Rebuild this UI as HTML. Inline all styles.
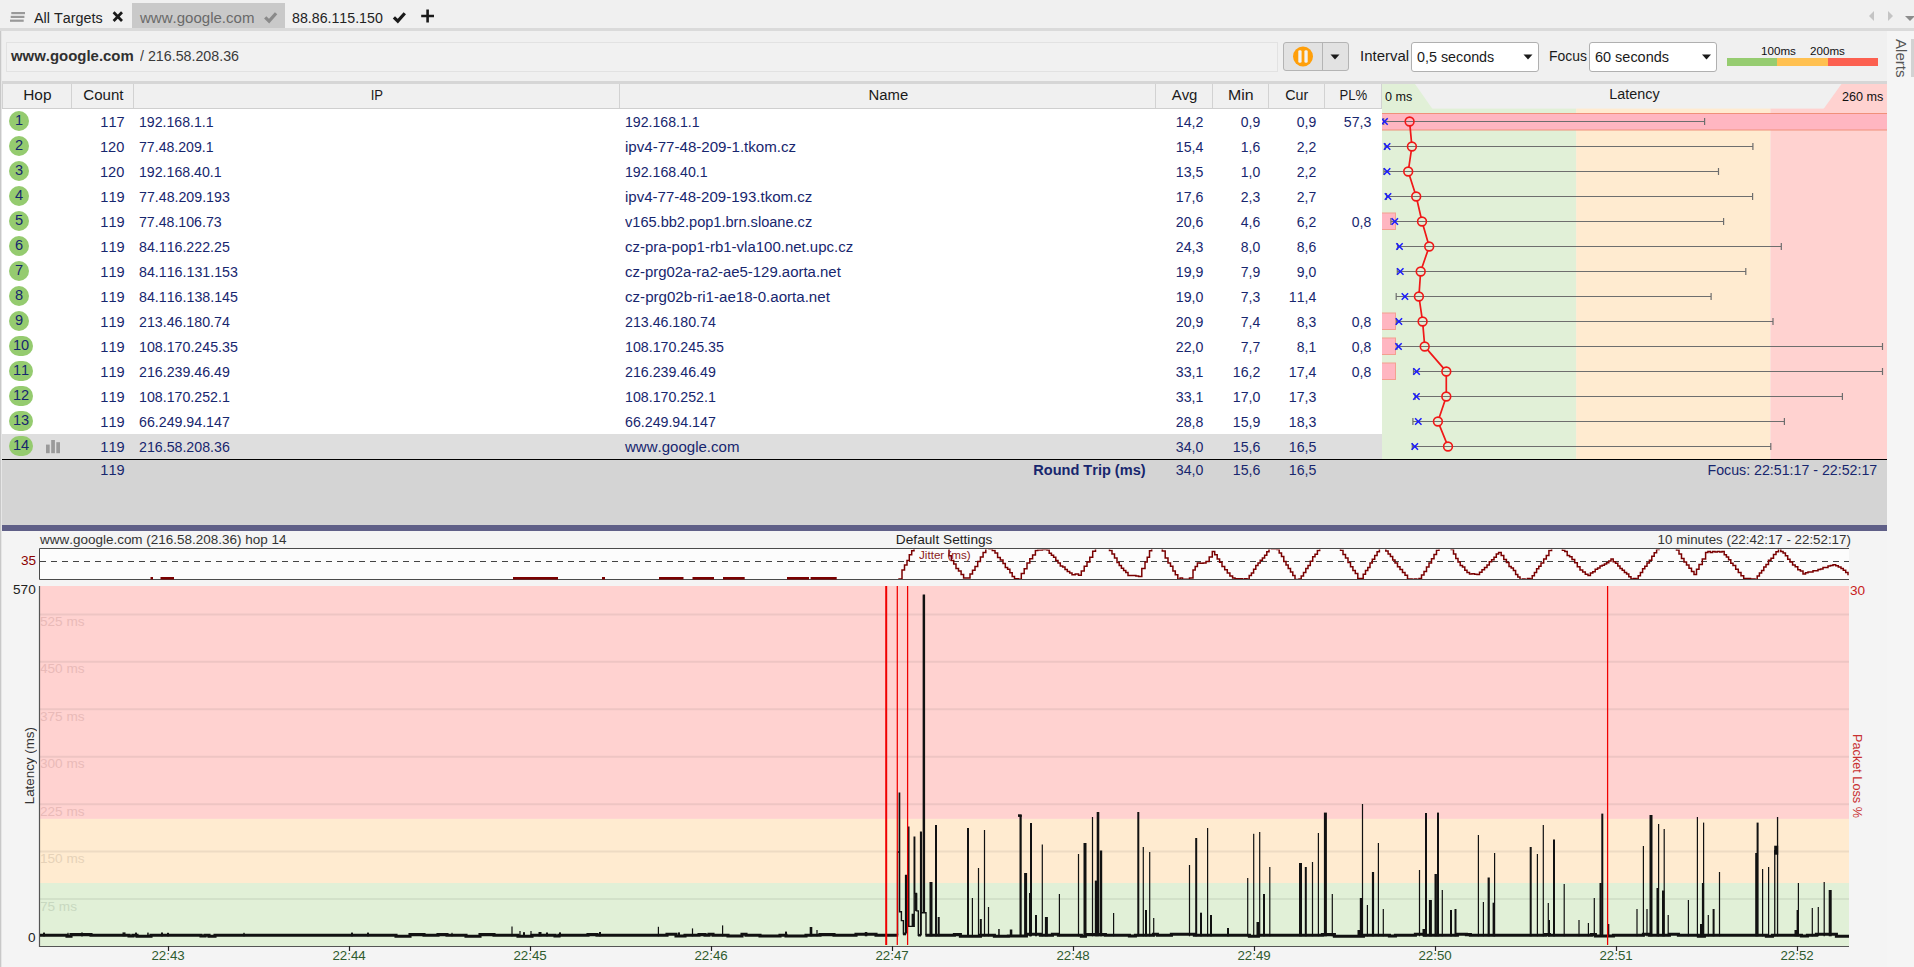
<!DOCTYPE html><html><head><meta charset="utf-8"><title>PingPlotter</title><style>
html,body{margin:0;padding:0;}
body{width:1914px;height:967px;overflow:hidden;background:#f0f0f0;font-family:"Liberation Sans", sans-serif;position:relative;color:#1a1a1a;font-kerning:none;}
div{position:absolute;white-space:nowrap;box-sizing:border-box;}
.sep{top:84px;width:1px;height:24px;background:#d2d2d2;}
.hop{width:20px;height:20px;border-radius:10px;background:#95cb6f;left:9px;}
svg{position:absolute;left:0;top:0;}
</style></head><body>
<div style="left:132px;top:3px;width:153px;height:25px;background:#c9c9c9;"></div>
<div style="left:0;top:28px;width:1914px;height:3px;background:#dadada;"></div>
<div style="left:33.50px;top:10.66px;font-size:14.58px;line-height:14.58px;color:#222;transform:scaleX(0.9858);transform-origin:0 0;">All Targets</div>
<div style="left:139.60px;top:10.66px;font-size:14.58px;line-height:14.58px;color:#6a6a6a;transform:scaleX(1.0306);transform-origin:0 0;">www.google.com</div>
<div style="left:292.00px;top:10.66px;font-size:14.58px;line-height:14.58px;color:#222;transform:scaleX(0.9739);transform-origin:0 0;">88.86.115.150</div>
<svg width="1914" height="31" viewBox="0 0 1914 31">
<path d="M11.3 13.1 h13.7" stroke="#999" stroke-width="2.2" fill="none"/>
<path d="M10.7 16.9 h13.7" stroke="#999" stroke-width="2.2" fill="none"/>
<path d="M10.0 20.7 h13.7" stroke="#999" stroke-width="2.2" fill="none"/>
<path d="M113.6 12.2 l8.4 8.8 M122 12.2 l-8.4 8.8" stroke="#1a1a1a" stroke-width="2.7" fill="none"/>
<path d="M265.2 17.4 l3.9 3.7 l7.0 -7.8" stroke="#8a8a8a" stroke-width="3.2" fill="none"/>
<path d="M393.9 17.4 l3.9 3.7 l7.0 -7.8" stroke="#1a1a1a" stroke-width="3.2" fill="none"/>
<path d="M421.2 16 h12.8 M427.6 9.5 v13" stroke="#1a1a1a" stroke-width="2.6" fill="none"/>
<path d="M1874 11 v10 l-5 -5z" fill="#c4c4c4"/><path d="M1888 11 v10 l5 -5z" fill="#c4c4c4"/><path d="M1905 16 h10 l-5 5z" fill="#8c8c8c"/>
</svg>
<div style="left:0;top:31px;width:1px;height:936px;background:#c8c8c8;"></div><div style="left:1px;top:31px;width:1px;height:936px;background:#e6e6e6;"></div>
<div style="left:6px;top:42px;width:1272px;height:30px;border:1px solid #e2e2e2;background:#f1f1f1;"></div>
<div style="left:11.40px;top:48.66px;font-size:14.58px;line-height:14.58px;color:#303030;font-weight:bold;transform:scaleX(1.0237);transform-origin:0 0;">www.google.com</div>
<div style="left:140.20px;top:48.66px;font-size:14.58px;line-height:14.58px;color:#3a3a3a;transform:scaleX(0.9768);transform-origin:0 0;">/ 216.58.208.36</div>
<div style="left:1283px;top:42px;width:66px;height:29px;border:1px solid #b4b4b4;border-radius:3px;background:#e2e2e2;"></div>
<div style="left:1322px;top:43px;width:1px;height:27px;background:#b4b4b4;"></div>
<div style="left:1359.50px;top:48.66px;font-size:14.58px;line-height:14.58px;color:#1a1a1a;transform:scaleX(1.0277);transform-origin:0 0;">Interval</div>
<div style="left:1411px;top:42px;width:128px;height:30px;border:1px solid #b0b0b0;border-radius:3px;background:#fff;"></div>
<div style="left:1417.00px;top:50.16px;font-size:14.58px;line-height:14.58px;color:#1a1a1a;transform:scaleX(0.9824);transform-origin:0 0;">0,5 seconds</div>
<div style="left:1548.50px;top:48.66px;font-size:14.58px;line-height:14.58px;color:#1a1a1a;transform:scaleX(0.9554);transform-origin:0 0;">Focus</div>
<div style="left:1589px;top:42px;width:128px;height:30px;border:1px solid #b0b0b0;border-radius:3px;background:#fff;"></div>
<div style="left:1595.00px;top:50.16px;font-size:14.58px;line-height:14.58px;color:#1a1a1a;transform:scaleX(0.9921);transform-origin:0 0;">60 seconds</div>
<svg width="1914" height="80" viewBox="0 0 1914 80"><circle cx="1303" cy="56.5" r="10" fill="#ff9f0a"/><rect x="1298.3" y="50.2" width="3.3" height="12.6" rx="1.4" fill="#f2f2f2"/><rect x="1304.4" y="50.2" width="3.3" height="12.6" rx="1.4" fill="#f2f2f2"/>
<path d="M1330.5 54.5 h9 l-4.5 5z" fill="#1a1a1a"/>
<path d="M1523.5 54.5 h9 l-4.5 5z" fill="#1a1a1a"/>
<path d="M1702 54.5 h9 l-4.5 5z" fill="#1a1a1a"/>
</svg>
<div style="left:1727px;top:58px;width:50px;height:8px;background:#96cc70;"></div>
<div style="left:1777px;top:58px;width:51px;height:8px;background:#ffc050;"></div>
<div style="left:1828px;top:58px;width:50px;height:8px;background:#fc6050;"></div>
<div style="left:1760.52px;top:44.73px;font-size:11.66px;line-height:11.66px;color:#111;transform:scaleX(0.9960);transform-origin:50% 0;">100ms</div>
<div style="left:1810.02px;top:44.73px;font-size:11.66px;line-height:11.66px;color:#111;transform:scaleX(0.9960);transform-origin:50% 0;">200ms</div>
<div style="left:1887px;top:31px;width:27px;height:936px;background:#f5f5f5;"></div>
<div style="left:1911px;top:39px;width:3px;height:38px;background:#d2d2d2;"></div>
<div style="left:1895.2px;top:39px;width:0;height:0;transform:rotate(90deg);transform-origin:0 0;">
<div style="left:0.00px;top:-12.59px;font-size:14.87px;line-height:14.87px;color:#555;transform:scaleX(1.0153);transform-origin:0 0;">Alerts</div>
</div>
<div style="left:2px;top:81px;width:1885px;height:3px;background:#d6d6d6;"></div>
<div style="left:2px;top:84px;width:1380px;height:25px;background:#f0f0f0;border-bottom:1px solid #cfcfcf;"></div>
<div class="sep" style="left:2px;"></div>
<div class="sep" style="left:71px;"></div>
<div class="sep" style="left:133px;"></div>
<div class="sep" style="left:619px;"></div>
<div class="sep" style="left:1155px;"></div>
<div class="sep" style="left:1212px;"></div>
<div class="sep" style="left:1268px;"></div>
<div class="sep" style="left:1324px;"></div>
<div class="sep" style="left:1381px;"></div>
<div style="left:23.94px;top:87.66px;font-size:14.58px;line-height:14.58px;color:#1a1a1a;transform:scaleX(1.0576);transform-origin:50% 0;">Hop</div>
<div style="left:83.67px;top:87.66px;font-size:14.58px;line-height:14.58px;color:#1a1a1a;transform:scaleX(1.0326);transform-origin:50% 0;">Count</div>
<div style="left:370.11px;top:87.66px;font-size:14.58px;line-height:14.58px;color:#1a1a1a;transform:scaleX(0.8994);transform-origin:50% 0;">IP</div>
<div style="left:868.97px;top:87.66px;font-size:14.58px;line-height:14.58px;color:#1a1a1a;transform:scaleX(1.0194);transform-origin:50% 0;">Name</div>
<div style="left:1172.14px;top:87.66px;font-size:14.58px;line-height:14.58px;color:#1a1a1a;transform:scaleX(1.0226);transform-origin:50% 0;">Avg</div>
<div style="left:1228.96px;top:87.66px;font-size:14.58px;line-height:14.58px;color:#1a1a1a;transform:scaleX(1.0899);transform-origin:50% 0;">Min</div>
<div style="left:1284.96px;top:87.66px;font-size:14.58px;line-height:14.58px;color:#1a1a1a;transform:scaleX(0.9791);transform-origin:50% 0;">Cur</div>
<div style="left:1338.00px;top:87.66px;font-size:14.58px;line-height:14.58px;color:#1a1a1a;transform:scaleX(0.9005);transform-origin:50% 0;">PL%</div>
<div style="left:1609.00px;top:86.86px;font-size:14.58px;line-height:14.58px;color:#1a1a1a;transform:scaleX(0.9854);transform-origin:50% 0;">Latency</div>
<div style="left:2px;top:109px;width:1380px;height:325px;background:#fff;"></div>
<div style="left:2px;top:434px;width:1380px;height:25px;background:#dedede;"></div>
<div class="hop" style="top:111px;width:20px;"></div>
<div style="left:14.95px;top:112.66px;font-size:14.58px;line-height:14.58px;color:#17266e;transform:scaleX(0.9993);transform-origin:50% 0;">1</div>
<div style="left:100.34px;top:114.66px;font-size:14.58px;line-height:14.58px;color:#17266e;transform:scaleX(1.0000);transform-origin:100% 0;">117</div>
<div style="left:139.00px;top:114.66px;font-size:14.58px;line-height:14.58px;color:#17266e;transform:scaleX(0.9684);transform-origin:0 0;">192.168.1.1</div>
<div style="left:625.00px;top:114.66px;font-size:14.58px;line-height:14.58px;color:#17266e;transform:scaleX(0.9684);transform-origin:0 0;">192.168.1.1</div>
<div style="left:1174.98px;top:114.66px;font-size:14.58px;line-height:14.58px;color:#17266e;transform:scaleX(0.9713);transform-origin:100% 0;">14,2</div>
<div style="left:1239.87px;top:114.66px;font-size:14.58px;line-height:14.58px;color:#17266e;transform:scaleX(0.9602);transform-origin:100% 0;">0,9</div>
<div style="left:1296.27px;top:114.66px;font-size:14.58px;line-height:14.58px;color:#17266e;transform:scaleX(0.9602);transform-origin:100% 0;">0,9</div>
<div style="left:1342.98px;top:114.66px;font-size:14.58px;line-height:14.58px;color:#17266e;transform:scaleX(0.9713);transform-origin:100% 0;">57,3</div>
<div class="hop" style="top:136px;width:20px;"></div>
<div style="left:14.95px;top:137.66px;font-size:14.58px;line-height:14.58px;color:#17266e;transform:scaleX(0.9993);transform-origin:50% 0;">2</div>
<div style="left:100.32px;top:139.66px;font-size:14.58px;line-height:14.58px;color:#17266e;transform:scaleX(0.9993);transform-origin:100% 0;">120</div>
<div style="left:139.00px;top:139.66px;font-size:14.58px;line-height:14.58px;color:#17266e;transform:scaleX(0.9684);transform-origin:0 0;">77.48.209.1</div>
<div style="left:625.00px;top:139.66px;font-size:14.58px;line-height:14.58px;color:#17266e;transform:scaleX(1.0352);transform-origin:0 0;">ipv4-77-48-209-1.tkom.cz</div>
<div style="left:1174.98px;top:139.66px;font-size:14.58px;line-height:14.58px;color:#17266e;transform:scaleX(0.9713);transform-origin:100% 0;">15,4</div>
<div style="left:1239.87px;top:139.66px;font-size:14.58px;line-height:14.58px;color:#17266e;transform:scaleX(0.9602);transform-origin:100% 0;">1,6</div>
<div style="left:1296.27px;top:139.66px;font-size:14.58px;line-height:14.58px;color:#17266e;transform:scaleX(0.9602);transform-origin:100% 0;">2,2</div>
<div class="hop" style="top:161px;width:20px;"></div>
<div style="left:14.95px;top:162.66px;font-size:14.58px;line-height:14.58px;color:#17266e;transform:scaleX(0.9993);transform-origin:50% 0;">3</div>
<div style="left:100.32px;top:164.66px;font-size:14.58px;line-height:14.58px;color:#17266e;transform:scaleX(0.9993);transform-origin:100% 0;">120</div>
<div style="left:139.00px;top:164.66px;font-size:14.58px;line-height:14.58px;color:#17266e;transform:scaleX(0.9713);transform-origin:0 0;">192.168.40.1</div>
<div style="left:625.00px;top:164.66px;font-size:14.58px;line-height:14.58px;color:#17266e;transform:scaleX(0.9713);transform-origin:0 0;">192.168.40.1</div>
<div style="left:1174.98px;top:164.66px;font-size:14.58px;line-height:14.58px;color:#17266e;transform:scaleX(0.9713);transform-origin:100% 0;">13,5</div>
<div style="left:1239.87px;top:164.66px;font-size:14.58px;line-height:14.58px;color:#17266e;transform:scaleX(0.9602);transform-origin:100% 0;">1,0</div>
<div style="left:1296.27px;top:164.66px;font-size:14.58px;line-height:14.58px;color:#17266e;transform:scaleX(0.9602);transform-origin:100% 0;">2,2</div>
<div class="hop" style="top:186px;width:20px;"></div>
<div style="left:14.95px;top:187.66px;font-size:14.58px;line-height:14.58px;color:#17266e;transform:scaleX(0.9993);transform-origin:50% 0;">4</div>
<div style="left:100.34px;top:189.66px;font-size:14.58px;line-height:14.58px;color:#17266e;transform:scaleX(1.0000);transform-origin:100% 0;">119</div>
<div style="left:139.00px;top:189.66px;font-size:14.58px;line-height:14.58px;color:#17266e;transform:scaleX(0.9738);transform-origin:0 0;">77.48.209.193</div>
<div style="left:625.00px;top:189.66px;font-size:14.58px;line-height:14.58px;color:#17266e;transform:scaleX(1.0320);transform-origin:0 0;">ipv4-77-48-209-193.tkom.cz</div>
<div style="left:1174.98px;top:189.66px;font-size:14.58px;line-height:14.58px;color:#17266e;transform:scaleX(0.9713);transform-origin:100% 0;">17,6</div>
<div style="left:1239.87px;top:189.66px;font-size:14.58px;line-height:14.58px;color:#17266e;transform:scaleX(0.9602);transform-origin:100% 0;">2,3</div>
<div style="left:1296.27px;top:189.66px;font-size:14.58px;line-height:14.58px;color:#17266e;transform:scaleX(0.9602);transform-origin:100% 0;">2,7</div>
<div class="hop" style="top:211px;width:20px;"></div>
<div style="left:14.95px;top:212.66px;font-size:14.58px;line-height:14.58px;color:#17266e;transform:scaleX(0.9993);transform-origin:50% 0;">5</div>
<div style="left:100.34px;top:214.66px;font-size:14.58px;line-height:14.58px;color:#17266e;transform:scaleX(1.0000);transform-origin:100% 0;">119</div>
<div style="left:139.00px;top:214.66px;font-size:14.58px;line-height:14.58px;color:#17266e;transform:scaleX(0.9713);transform-origin:0 0;">77.48.106.73</div>
<div style="left:625.00px;top:214.66px;font-size:14.58px;line-height:14.58px;color:#17266e;transform:scaleX(0.9998);transform-origin:0 0;">v165.bb2.pop1.brn.sloane.cz</div>
<div style="left:1174.98px;top:214.66px;font-size:14.58px;line-height:14.58px;color:#17266e;transform:scaleX(0.9713);transform-origin:100% 0;">20,6</div>
<div style="left:1239.87px;top:214.66px;font-size:14.58px;line-height:14.58px;color:#17266e;transform:scaleX(0.9602);transform-origin:100% 0;">4,6</div>
<div style="left:1296.27px;top:214.66px;font-size:14.58px;line-height:14.58px;color:#17266e;transform:scaleX(0.9602);transform-origin:100% 0;">6,2</div>
<div style="left:1351.07px;top:214.66px;font-size:14.58px;line-height:14.58px;color:#17266e;transform:scaleX(0.9602);transform-origin:100% 0;">0,8</div>
<div class="hop" style="top:236px;width:20px;"></div>
<div style="left:14.95px;top:237.66px;font-size:14.58px;line-height:14.58px;color:#17266e;transform:scaleX(0.9993);transform-origin:50% 0;">6</div>
<div style="left:100.34px;top:239.66px;font-size:14.58px;line-height:14.58px;color:#17266e;transform:scaleX(1.0000);transform-origin:100% 0;">119</div>
<div style="left:139.00px;top:239.66px;font-size:14.58px;line-height:14.58px;color:#17266e;transform:scaleX(0.9739);transform-origin:0 0;">84.116.222.25</div>
<div style="left:625.00px;top:239.66px;font-size:14.58px;line-height:14.58px;color:#17266e;transform:scaleX(1.0277);transform-origin:0 0;">cz-pra-pop1-rb1-vla100.net.upc.cz</div>
<div style="left:1174.98px;top:239.66px;font-size:14.58px;line-height:14.58px;color:#17266e;transform:scaleX(0.9713);transform-origin:100% 0;">24,3</div>
<div style="left:1239.87px;top:239.66px;font-size:14.58px;line-height:14.58px;color:#17266e;transform:scaleX(0.9602);transform-origin:100% 0;">8,0</div>
<div style="left:1296.27px;top:239.66px;font-size:14.58px;line-height:14.58px;color:#17266e;transform:scaleX(0.9602);transform-origin:100% 0;">8,6</div>
<div class="hop" style="top:261px;width:20px;"></div>
<div style="left:14.95px;top:262.66px;font-size:14.58px;line-height:14.58px;color:#17266e;transform:scaleX(0.9993);transform-origin:50% 0;">7</div>
<div style="left:100.34px;top:264.66px;font-size:14.58px;line-height:14.58px;color:#17266e;transform:scaleX(1.0000);transform-origin:100% 0;">119</div>
<div style="left:139.00px;top:264.66px;font-size:14.58px;line-height:14.58px;color:#17266e;transform:scaleX(0.9760);transform-origin:0 0;">84.116.131.153</div>
<div style="left:625.00px;top:264.66px;font-size:14.58px;line-height:14.58px;color:#17266e;transform:scaleX(1.0241);transform-origin:0 0;">cz-prg02a-ra2-ae5-129.aorta.net</div>
<div style="left:1174.98px;top:264.66px;font-size:14.58px;line-height:14.58px;color:#17266e;transform:scaleX(0.9713);transform-origin:100% 0;">19,9</div>
<div style="left:1239.87px;top:264.66px;font-size:14.58px;line-height:14.58px;color:#17266e;transform:scaleX(0.9602);transform-origin:100% 0;">7,9</div>
<div style="left:1296.27px;top:264.66px;font-size:14.58px;line-height:14.58px;color:#17266e;transform:scaleX(0.9602);transform-origin:100% 0;">9,0</div>
<div class="hop" style="top:286px;width:20px;"></div>
<div style="left:14.95px;top:287.66px;font-size:14.58px;line-height:14.58px;color:#17266e;transform:scaleX(0.9993);transform-origin:50% 0;">8</div>
<div style="left:100.34px;top:289.66px;font-size:14.58px;line-height:14.58px;color:#17266e;transform:scaleX(1.0000);transform-origin:100% 0;">119</div>
<div style="left:139.00px;top:289.66px;font-size:14.58px;line-height:14.58px;color:#17266e;transform:scaleX(0.9760);transform-origin:0 0;">84.116.138.145</div>
<div style="left:625.00px;top:289.66px;font-size:14.58px;line-height:14.58px;color:#17266e;transform:scaleX(1.0360);transform-origin:0 0;">cz-prg02b-ri1-ae18-0.aorta.net</div>
<div style="left:1174.98px;top:289.66px;font-size:14.58px;line-height:14.58px;color:#17266e;transform:scaleX(0.9713);transform-origin:100% 0;">19,0</div>
<div style="left:1239.87px;top:289.66px;font-size:14.58px;line-height:14.58px;color:#17266e;transform:scaleX(0.9602);transform-origin:100% 0;">7,3</div>
<div style="left:1288.20px;top:289.66px;font-size:14.58px;line-height:14.58px;color:#17266e;transform:scaleX(0.9719);transform-origin:100% 0;">11,4</div>
<div class="hop" style="top:311px;width:20px;"></div>
<div style="left:14.95px;top:312.66px;font-size:14.58px;line-height:14.58px;color:#17266e;transform:scaleX(0.9993);transform-origin:50% 0;">9</div>
<div style="left:100.34px;top:314.66px;font-size:14.58px;line-height:14.58px;color:#17266e;transform:scaleX(1.0000);transform-origin:100% 0;">119</div>
<div style="left:139.00px;top:314.66px;font-size:14.58px;line-height:14.58px;color:#17266e;transform:scaleX(0.9738);transform-origin:0 0;">213.46.180.74</div>
<div style="left:625.00px;top:314.66px;font-size:14.58px;line-height:14.58px;color:#17266e;transform:scaleX(0.9738);transform-origin:0 0;">213.46.180.74</div>
<div style="left:1174.98px;top:314.66px;font-size:14.58px;line-height:14.58px;color:#17266e;transform:scaleX(0.9713);transform-origin:100% 0;">20,9</div>
<div style="left:1239.87px;top:314.66px;font-size:14.58px;line-height:14.58px;color:#17266e;transform:scaleX(0.9602);transform-origin:100% 0;">7,4</div>
<div style="left:1296.27px;top:314.66px;font-size:14.58px;line-height:14.58px;color:#17266e;transform:scaleX(0.9602);transform-origin:100% 0;">8,3</div>
<div style="left:1351.07px;top:314.66px;font-size:14.58px;line-height:14.58px;color:#17266e;transform:scaleX(0.9602);transform-origin:100% 0;">0,8</div>
<div class="hop" style="top:336px;width:24px;"></div>
<div style="left:12.91px;top:337.66px;font-size:14.58px;line-height:14.58px;color:#17266e;transform:scaleX(0.9993);transform-origin:50% 0;">10</div>
<div style="left:100.34px;top:339.66px;font-size:14.58px;line-height:14.58px;color:#17266e;transform:scaleX(1.0000);transform-origin:100% 0;">119</div>
<div style="left:139.00px;top:339.66px;font-size:14.58px;line-height:14.58px;color:#17266e;transform:scaleX(0.9758);transform-origin:0 0;">108.170.245.35</div>
<div style="left:625.00px;top:339.66px;font-size:14.58px;line-height:14.58px;color:#17266e;transform:scaleX(0.9758);transform-origin:0 0;">108.170.245.35</div>
<div style="left:1174.98px;top:339.66px;font-size:14.58px;line-height:14.58px;color:#17266e;transform:scaleX(0.9713);transform-origin:100% 0;">22,0</div>
<div style="left:1239.87px;top:339.66px;font-size:14.58px;line-height:14.58px;color:#17266e;transform:scaleX(0.9602);transform-origin:100% 0;">7,7</div>
<div style="left:1296.27px;top:339.66px;font-size:14.58px;line-height:14.58px;color:#17266e;transform:scaleX(0.9602);transform-origin:100% 0;">8,1</div>
<div style="left:1351.07px;top:339.66px;font-size:14.58px;line-height:14.58px;color:#17266e;transform:scaleX(0.9602);transform-origin:100% 0;">0,8</div>
<div class="hop" style="top:361px;width:24px;"></div>
<div style="left:12.92px;top:362.66px;font-size:14.58px;line-height:14.58px;color:#17266e;transform:scaleX(1.0003);transform-origin:50% 0;">11</div>
<div style="left:100.34px;top:364.66px;font-size:14.58px;line-height:14.58px;color:#17266e;transform:scaleX(1.0000);transform-origin:100% 0;">119</div>
<div style="left:139.00px;top:364.66px;font-size:14.58px;line-height:14.58px;color:#17266e;transform:scaleX(0.9738);transform-origin:0 0;">216.239.46.49</div>
<div style="left:625.00px;top:364.66px;font-size:14.58px;line-height:14.58px;color:#17266e;transform:scaleX(0.9738);transform-origin:0 0;">216.239.46.49</div>
<div style="left:1174.98px;top:364.66px;font-size:14.58px;line-height:14.58px;color:#17266e;transform:scaleX(0.9713);transform-origin:100% 0;">33,1</div>
<div style="left:1231.78px;top:364.66px;font-size:14.58px;line-height:14.58px;color:#17266e;transform:scaleX(0.9713);transform-origin:100% 0;">16,2</div>
<div style="left:1288.18px;top:364.66px;font-size:14.58px;line-height:14.58px;color:#17266e;transform:scaleX(0.9713);transform-origin:100% 0;">17,4</div>
<div style="left:1351.07px;top:364.66px;font-size:14.58px;line-height:14.58px;color:#17266e;transform:scaleX(0.9602);transform-origin:100% 0;">0,8</div>
<div class="hop" style="top:386px;width:24px;"></div>
<div style="left:12.91px;top:387.66px;font-size:14.58px;line-height:14.58px;color:#17266e;transform:scaleX(0.9993);transform-origin:50% 0;">12</div>
<div style="left:100.34px;top:389.66px;font-size:14.58px;line-height:14.58px;color:#17266e;transform:scaleX(1.0000);transform-origin:100% 0;">119</div>
<div style="left:139.00px;top:389.66px;font-size:14.58px;line-height:14.58px;color:#17266e;transform:scaleX(0.9738);transform-origin:0 0;">108.170.252.1</div>
<div style="left:625.00px;top:389.66px;font-size:14.58px;line-height:14.58px;color:#17266e;transform:scaleX(0.9738);transform-origin:0 0;">108.170.252.1</div>
<div style="left:1174.98px;top:389.66px;font-size:14.58px;line-height:14.58px;color:#17266e;transform:scaleX(0.9713);transform-origin:100% 0;">33,1</div>
<div style="left:1231.78px;top:389.66px;font-size:14.58px;line-height:14.58px;color:#17266e;transform:scaleX(0.9713);transform-origin:100% 0;">17,0</div>
<div style="left:1288.18px;top:389.66px;font-size:14.58px;line-height:14.58px;color:#17266e;transform:scaleX(0.9713);transform-origin:100% 0;">17,3</div>
<div class="hop" style="top:411px;width:24px;"></div>
<div style="left:12.91px;top:412.66px;font-size:14.58px;line-height:14.58px;color:#17266e;transform:scaleX(0.9993);transform-origin:50% 0;">13</div>
<div style="left:100.34px;top:414.66px;font-size:14.58px;line-height:14.58px;color:#17266e;transform:scaleX(1.0000);transform-origin:100% 0;">119</div>
<div style="left:139.00px;top:414.66px;font-size:14.58px;line-height:14.58px;color:#17266e;transform:scaleX(0.9738);transform-origin:0 0;">66.249.94.147</div>
<div style="left:625.00px;top:414.66px;font-size:14.58px;line-height:14.58px;color:#17266e;transform:scaleX(0.9738);transform-origin:0 0;">66.249.94.147</div>
<div style="left:1174.98px;top:414.66px;font-size:14.58px;line-height:14.58px;color:#17266e;transform:scaleX(0.9713);transform-origin:100% 0;">28,8</div>
<div style="left:1231.78px;top:414.66px;font-size:14.58px;line-height:14.58px;color:#17266e;transform:scaleX(0.9713);transform-origin:100% 0;">15,9</div>
<div style="left:1288.18px;top:414.66px;font-size:14.58px;line-height:14.58px;color:#17266e;transform:scaleX(0.9713);transform-origin:100% 0;">18,3</div>
<div class="hop" style="top:436px;width:24px;"></div>
<div style="left:12.91px;top:437.66px;font-size:14.58px;line-height:14.58px;color:#17266e;transform:scaleX(0.9993);transform-origin:50% 0;">14</div>
<div style="left:100.34px;top:439.66px;font-size:14.58px;line-height:14.58px;color:#17266e;transform:scaleX(1.0000);transform-origin:100% 0;">119</div>
<div style="left:139.00px;top:439.66px;font-size:14.58px;line-height:14.58px;color:#17266e;transform:scaleX(0.9738);transform-origin:0 0;">216.58.208.36</div>
<div style="left:625.00px;top:439.66px;font-size:14.58px;line-height:14.58px;color:#17266e;transform:scaleX(1.0306);transform-origin:0 0;">www.google.com</div>
<div style="left:1174.98px;top:439.66px;font-size:14.58px;line-height:14.58px;color:#17266e;transform:scaleX(0.9713);transform-origin:100% 0;">34,0</div>
<div style="left:1231.78px;top:439.66px;font-size:14.58px;line-height:14.58px;color:#17266e;transform:scaleX(0.9713);transform-origin:100% 0;">15,6</div>
<div style="left:1288.18px;top:439.66px;font-size:14.58px;line-height:14.58px;color:#17266e;transform:scaleX(0.9713);transform-origin:100% 0;">16,5</div>
<div style="left:2px;top:459px;width:1885px;height:67px;background:#d4d4d4;"></div>
<div style="left:2px;top:459px;width:1885px;height:1.3px;background:#000;"></div>
<div style="left:100.34px;top:462.66px;font-size:14.58px;line-height:14.58px;color:#17266e;transform:scaleX(1.0000);transform-origin:100% 0;">119</div>
<div style="left:1033.13px;top:462.66px;font-size:14.58px;line-height:14.58px;color:#17266e;font-weight:bold;transform:scaleX(0.9976);transform-origin:100% 0;">Round Trip (ms)</div>
<div style="left:1174.98px;top:462.66px;font-size:14.58px;line-height:14.58px;color:#17266e;transform:scaleX(0.9713);transform-origin:100% 0;">34,0</div>
<div style="left:1231.78px;top:462.66px;font-size:14.58px;line-height:14.58px;color:#17266e;transform:scaleX(0.9713);transform-origin:100% 0;">15,6</div>
<div style="left:1288.18px;top:462.66px;font-size:14.58px;line-height:14.58px;color:#17266e;transform:scaleX(0.9713);transform-origin:100% 0;">16,5</div>
<div style="left:1703.32px;top:462.66px;font-size:14.58px;line-height:14.58px;color:#17266e;transform:scaleX(0.9743);transform-origin:100% 0;">Focus: 22:51:17 - 22:52:17</div>
<div style="left:2px;top:525.4px;width:1885px;height:5.6px;background:#5f5f87;"></div>
<svg width="1914" height="470" viewBox="0 0 1914 470"><clipPath id="gc"><rect x="1382" y="84" width="505" height="375"/></clipPath><g clip-path="url(#gc)">
<path d="M1382 84 H1415 L1432.5 109 H1382z" fill="#e1f0d7"/>
<path d="M1887 84 H1841.5 L1823.5 109 H1887z" fill="#ffd2d0"/>
<rect x="1382" y="108.6" width="194.2" height="351" fill="#e1f0d7"/>
<rect x="1576.2" y="108.6" width="194.2" height="351" fill="#ffebd0"/>
<rect x="1770.5" y="108.6" width="116.5" height="351" fill="#ffd2d0"/>
<rect x="1381" y="113.5" width="510" height="16.5" fill="#ffb6c1" stroke="#f0907a" stroke-width="1"/>
<rect x="1381.5" y="213.0" width="14" height="16.5" fill="#ffb6c1" stroke="#f4a090" stroke-width="1"/>
<rect x="1381.5" y="313.0" width="14" height="16.5" fill="#ffb6c1" stroke="#f4a090" stroke-width="1"/>
<rect x="1381.5" y="338.0" width="14" height="16.5" fill="#ffb6c1" stroke="#f4a090" stroke-width="1"/>
<rect x="1381.5" y="363.0" width="14" height="16.5" fill="#ffb6c1" stroke="#f4a090" stroke-width="1"/>
<path d="M1383.7 121.5 H1704.6 M1704.6 118.0 v7 M1383.7 118.0 v7" stroke="#6e6e6e" stroke-width="1.2" fill="none"/>
<path d="M1385.1 146.5 H1752.9 M1752.9 143.0 v7 M1385.1 143.0 v7" stroke="#6e6e6e" stroke-width="1.2" fill="none"/>
<path d="M1383.9 171.5 H1718.5 M1718.5 168.0 v7 M1383.9 168.0 v7" stroke="#6e6e6e" stroke-width="1.2" fill="none"/>
<path d="M1386.5 196.5 H1752.6 M1752.6 193.0 v7 M1386.5 193.0 v7" stroke="#6e6e6e" stroke-width="1.2" fill="none"/>
<path d="M1390.9 221.5 H1723.6 M1723.6 218.0 v7 M1390.9 218.0 v7" stroke="#6e6e6e" stroke-width="1.2" fill="none"/>
<path d="M1397.5 246.5 H1781.3 M1781.3 243.0 v7 M1397.5 243.0 v7" stroke="#6e6e6e" stroke-width="1.2" fill="none"/>
<path d="M1397.3 271.5 H1745.8 M1745.8 268.0 v7 M1397.3 268.0 v7" stroke="#6e6e6e" stroke-width="1.2" fill="none"/>
<path d="M1396.2 296.5 H1711.1 M1711.1 293.0 v7 M1396.2 293.0 v7" stroke="#6e6e6e" stroke-width="1.2" fill="none"/>
<path d="M1396.4 321.5 H1773.0 M1773.0 318.0 v7 M1396.4 318.0 v7" stroke="#6e6e6e" stroke-width="1.2" fill="none"/>
<path d="M1397.0 346.5 H1882.5 M1882.5 343.0 v7 M1397.0 343.0 v7" stroke="#6e6e6e" stroke-width="1.2" fill="none"/>
<path d="M1413.5 371.5 H1882.5 M1882.5 368.0 v7 M1413.5 368.0 v7" stroke="#6e6e6e" stroke-width="1.2" fill="none"/>
<path d="M1415.0 396.5 H1842.4 M1842.4 393.0 v7 M1415.0 393.0 v7" stroke="#6e6e6e" stroke-width="1.2" fill="none"/>
<path d="M1412.9 421.5 H1784.4 M1784.4 418.0 v7 M1412.9 418.0 v7" stroke="#6e6e6e" stroke-width="1.2" fill="none"/>
<path d="M1412.3 446.5 H1770.8 M1770.8 443.0 v7 M1412.3 443.0 v7" stroke="#6e6e6e" stroke-width="1.2" fill="none"/>
<path d="M1409.99 125.88 L1411.50 142.12 M1411.27 150.85 L1408.86 167.15 M1409.56 175.69 L1414.85 192.31 M1417.18 200.79 L1421.01 217.21 M1423.23 225.73 L1427.98 242.27 M1427.77 250.66 L1422.08 267.34 M1420.35 275.89 L1419.21 292.11 M1419.55 300.85 L1421.95 317.15 M1422.97 325.88 L1424.36 342.12 M1427.60 349.83 L1443.42 368.17 M1446.29 375.90 L1446.29 392.10 M1444.90 400.67 L1439.33 417.33 M1439.59 425.58 L1446.39 442.42" stroke="#f01818" stroke-width="1.7" fill="none"/>
<circle cx="1409.6" cy="121.5" r="4.4" fill="none" stroke="#f01818" stroke-width="1.6"/>
<circle cx="1411.9" cy="146.5" r="4.4" fill="none" stroke="#f01818" stroke-width="1.6"/>
<circle cx="1408.2" cy="171.5" r="4.4" fill="none" stroke="#f01818" stroke-width="1.6"/>
<circle cx="1416.2" cy="196.5" r="4.4" fill="none" stroke="#f01818" stroke-width="1.6"/>
<circle cx="1422.0" cy="221.5" r="4.4" fill="none" stroke="#f01818" stroke-width="1.6"/>
<circle cx="1429.2" cy="246.5" r="4.4" fill="none" stroke="#f01818" stroke-width="1.6"/>
<circle cx="1420.7" cy="271.5" r="4.4" fill="none" stroke="#f01818" stroke-width="1.6"/>
<circle cx="1418.9" cy="296.5" r="4.4" fill="none" stroke="#f01818" stroke-width="1.6"/>
<circle cx="1422.6" cy="321.5" r="4.4" fill="none" stroke="#f01818" stroke-width="1.6"/>
<circle cx="1424.7" cy="346.5" r="4.4" fill="none" stroke="#f01818" stroke-width="1.6"/>
<circle cx="1446.3" cy="371.5" r="4.4" fill="none" stroke="#f01818" stroke-width="1.6"/>
<circle cx="1446.3" cy="396.5" r="4.4" fill="none" stroke="#f01818" stroke-width="1.6"/>
<circle cx="1437.9" cy="421.5" r="4.4" fill="none" stroke="#f01818" stroke-width="1.6"/>
<circle cx="1448.0" cy="446.5" r="4.4" fill="none" stroke="#f01818" stroke-width="1.6"/>
<path d="M1381.3 118.3 l6.4 6.4 M1387.7 118.3 l-6.4 6.4" stroke="#1a1aff" stroke-width="1.5" fill="none"/>
<path d="M1383.9 143.3 l6.4 6.4 M1390.3 143.3 l-6.4 6.4" stroke="#1a1aff" stroke-width="1.5" fill="none"/>
<path d="M1383.9 168.3 l6.4 6.4 M1390.3 168.3 l-6.4 6.4" stroke="#1a1aff" stroke-width="1.5" fill="none"/>
<path d="M1384.8 193.3 l6.4 6.4 M1391.2 193.3 l-6.4 6.4" stroke="#1a1aff" stroke-width="1.5" fill="none"/>
<path d="M1391.6 218.3 l6.4 6.4 M1398.0 218.3 l-6.4 6.4" stroke="#1a1aff" stroke-width="1.5" fill="none"/>
<path d="M1396.3 243.3 l6.4 6.4 M1402.7 243.3 l-6.4 6.4" stroke="#1a1aff" stroke-width="1.5" fill="none"/>
<path d="M1397.1 268.3 l6.4 6.4 M1403.5 268.3 l-6.4 6.4" stroke="#1a1aff" stroke-width="1.5" fill="none"/>
<path d="M1401.7 293.3 l6.4 6.4 M1408.1 293.3 l-6.4 6.4" stroke="#1a1aff" stroke-width="1.5" fill="none"/>
<path d="M1395.7 318.3 l6.4 6.4 M1402.1 318.3 l-6.4 6.4" stroke="#1a1aff" stroke-width="1.5" fill="none"/>
<path d="M1395.3 343.3 l6.4 6.4 M1401.7 343.3 l-6.4 6.4" stroke="#1a1aff" stroke-width="1.5" fill="none"/>
<path d="M1413.4 368.3 l6.4 6.4 M1419.8 368.3 l-6.4 6.4" stroke="#1a1aff" stroke-width="1.5" fill="none"/>
<path d="M1413.2 393.3 l6.4 6.4 M1419.6 393.3 l-6.4 6.4" stroke="#1a1aff" stroke-width="1.5" fill="none"/>
<path d="M1415.1 418.3 l6.4 6.4 M1421.5 418.3 l-6.4 6.4" stroke="#1a1aff" stroke-width="1.5" fill="none"/>
<path d="M1411.6 443.3 l6.4 6.4 M1418.0 443.3 l-6.4 6.4" stroke="#1a1aff" stroke-width="1.5" fill="none"/>
</g>
<rect x="46" y="444.6" width="3.7" height="8.6" fill="#9a9a9a"/><rect x="51.2" y="440" width="3.7" height="13.2" fill="#9a9a9a"/><rect x="56.3" y="442.2" width="3.7" height="11" fill="#9a9a9a"/>
</svg>
<div style="left:1384.50px;top:90.90px;font-size:12.64px;line-height:12.64px;color:#111;transform:scaleX(0.9968);transform-origin:0 0;">0 ms</div>
<div style="left:1842.12px;top:90.90px;font-size:12.64px;line-height:12.64px;color:#111;transform:scaleX(0.9976);transform-origin:100% 0;">260 ms</div>
<div style="left:2px;top:531px;width:1885px;height:436px;background:#f4f4f4;"></div>
<div style="left:39.60px;top:532.68px;font-size:13.37px;line-height:13.37px;color:#333;transform:scaleX(1.0086);transform-origin:0 0;">www.google.com (216.58.208.36) hop 14</div>
<div style="left:896.54px;top:532.68px;font-size:13.37px;line-height:13.37px;color:#222;transform:scaleX(1.0240);transform-origin:50% 0;">Default Settings</div>
<div style="left:1656.87px;top:532.68px;font-size:13.37px;line-height:13.37px;color:#333;transform:scaleX(0.9968);transform-origin:100% 0;">10 minutes (22:42:17 - 22:52:17)</div>
<svg width="1914" height="967" viewBox="0 0 1914 967">
<rect x="40" y="549" width="1809" height="30.5" fill="#fcfcfc"/>
<path d="M1849 548.5 H39.5 V579.5 H1849" fill="none" stroke="#4a4a4a" stroke-width="1"/>
<path d="M40 561.5 H1849" stroke="#444" stroke-width="1" stroke-dasharray="6 5"/>
<clipPath id="jc"><rect x="40" y="549.6" width="1809" height="29.4"/></clipPath>
<rect x="150.5" y="577" width="2.5" height="2.5" fill="#7a0000"/>
<rect x="160.5" y="577" width="13.5" height="2.5" fill="#7a0000"/>
<rect x="513.0" y="577" width="45.0" height="2.5" fill="#7a0000"/>
<rect x="602.0" y="577" width="3.0" height="2.5" fill="#7a0000"/>
<rect x="659.0" y="577" width="24.5" height="2.5" fill="#7a0000"/>
<rect x="692.5" y="577" width="21.5" height="2.5" fill="#7a0000"/>
<rect x="723.0" y="577" width="21.7" height="2.5" fill="#7a0000"/>
<rect x="787.0" y="577" width="22.0" height="2.5" fill="#7a0000"/>
<rect x="810.6" y="577" width="26.1" height="2.5" fill="#7a0000"/>
<polyline clip-path="url(#jc)" points="898.3,579.0 902.0,579.0 902.0,570.0 904.5,570.0 904.5,565.0 907.0,565.0 907.0,560.6 909.3,560.6 909.3,554.7 911.7,554.7 911.7,550.7 914.0,550.7 914.0,546.0 916.2,546.0 916.2,545.4 918.4,545.4 918.4,546.6 920.6,546.6 920.6,546.0 922.9,546.0 922.9,546.0 925.1,546.0 925.1,545.4 927.3,545.4 927.3,545.4 929.5,545.4 929.5,545.4 931.7,545.4 931.7,546.0 933.9,546.0 933.9,546.0 936.1,546.0 936.1,546.0 938.4,546.0 938.4,545.4 940.6,545.4 940.6,546.0 942.8,546.0 942.8,546.0 945.0,546.0 945.0,546.0 949.0,546.0 949.0,555.7 951.3,555.7 951.3,560.4 953.7,560.4 953.7,563.9 956.0,563.9 956.0,568.6 958.5,568.6 958.5,571.0 961.1,571.0 961.1,574.5 963.6,574.5 963.6,578.1 967.5,578.1 967.5,578.1 970.0,578.1 970.0,573.9 972.5,573.9 972.5,570.2 975.0,570.2 975.0,566.6 977.7,566.6 977.7,561.5 980.4,561.5 980.4,557.0 983.1,557.0 983.1,552.5 985.8,552.5 985.8,547.4 989.0,547.4 989.0,549.0 992.3,549.0 992.3,550.6 995.0,550.6 995.0,552.9 997.6,552.9 997.6,557.6 1000.3,557.6 1000.3,559.9 1003.0,559.9 1003.0,563.4 1005.3,563.4 1005.3,567.5 1007.6,567.5 1007.6,569.3 1009.9,569.3 1009.9,572.8 1012.2,572.8 1012.2,576.4 1014.5,576.4 1014.5,578.7 1018.5,578.7 1018.5,579.3 1021.3,579.3 1021.3,573.5 1024.2,573.5 1024.2,568.8 1027.0,568.8 1027.0,563.0 1029.8,563.0 1029.8,558.7 1032.6,558.7 1032.6,554.9 1035.4,554.9 1035.4,550.6 1037.7,550.6 1037.7,550.0 1040.0,550.0 1040.0,550.0 1042.4,550.0 1042.4,549.4 1044.7,549.4 1044.7,549.4 1047.0,549.4 1047.0,550.0 1049.2,550.0 1049.2,553.2 1051.4,553.2 1051.4,555.2 1053.6,555.2 1053.6,557.2 1055.8,557.2 1055.8,560.4 1058.0,560.4 1058.0,563.0 1060.3,563.0 1060.3,565.9 1062.7,565.9 1062.7,567.1 1065.0,567.1 1065.0,569.4 1067.3,569.4 1067.3,571.6 1069.7,571.6 1069.7,573.1 1072.0,573.1 1072.0,574.7 1075.2,574.7 1075.2,574.1 1078.5,574.1 1078.5,575.3 1081.3,575.3 1081.3,571.1 1084.2,571.1 1084.2,566.2 1087.0,566.2 1087.0,562.0 1089.8,562.0 1089.8,557.3 1092.7,557.3 1092.7,551.3 1095.5,551.3 1095.5,546.0 1097.8,546.0 1097.8,546.0 1100.1,546.0 1100.1,546.0 1102.4,546.0 1102.4,546.0 1104.7,546.0 1104.7,545.4 1107.0,545.4 1107.0,546.6 1109.5,546.6 1109.5,550.6 1112.0,550.6 1112.0,554.0 1114.5,554.0 1114.5,558.0 1117.0,558.0 1117.0,562.6 1119.2,562.6 1119.2,565.4 1121.4,565.4 1121.4,568.2 1123.6,568.2 1123.6,570.4 1125.8,570.4 1125.8,572.6 1128.0,572.6 1128.0,575.4 1130.7,575.4 1130.7,575.4 1133.3,575.4 1133.3,575.4 1135.9,575.4 1135.9,576.0 1138.6,576.0 1138.6,576.6 1141.8,576.6 1141.8,568.4 1145.0,568.4 1145.0,562.0 1147.2,562.0 1147.2,557.3 1149.5,557.3 1149.5,550.7 1151.7,550.7 1151.7,546.6 1154.3,546.6 1154.3,546.6 1156.9,546.6 1156.9,546.6 1159.5,546.6 1159.5,546.0 1162.3,546.0 1162.3,551.1 1165.2,551.1 1165.2,557.9 1168.0,557.9 1168.0,563.0 1170.5,563.0 1170.5,566.3 1172.9,566.3 1172.9,570.9 1175.3,570.9 1175.3,574.8 1177.8,574.8 1177.8,579.3 1180.1,579.3 1180.1,578.1 1182.5,578.1 1182.5,579.3 1184.8,579.3 1184.8,579.3 1187.2,579.3 1187.2,579.3 1189.5,579.3 1189.5,578.1 1193.0,578.1 1193.0,570.0 1195.2,570.0 1195.2,566.5 1197.4,566.5 1197.4,563.0 1200.3,563.0 1200.3,563.3 1203.1,563.3 1203.1,562.9 1206.0,562.9 1206.0,561.4 1209.2,561.4 1209.2,557.1 1212.3,557.1 1212.3,551.6 1214.7,551.6 1214.7,554.8 1217.2,554.8 1217.2,559.1 1219.6,559.1 1219.6,562.2 1222.0,562.2 1222.0,566.6 1224.7,566.6 1224.7,569.8 1227.3,569.8 1227.3,573.0 1229.9,573.0 1229.9,576.1 1232.6,576.1 1232.6,578.1 1235.0,578.1 1235.0,578.7 1237.4,578.7 1237.4,578.7 1239.8,578.7 1239.8,578.7 1242.2,578.7 1242.2,579.3 1244.6,579.3 1244.6,578.7 1247.0,578.7 1247.0,579.3 1249.2,579.3 1249.2,575.6 1251.4,575.6 1251.4,573.0 1253.6,573.0 1253.6,569.3 1255.8,569.3 1255.8,565.5 1258.0,565.5 1258.0,563.0 1260.2,563.0 1260.2,560.2 1262.4,560.2 1262.4,558.0 1264.6,558.0 1264.6,555.2 1266.8,555.2 1266.8,551.8 1269.0,551.8 1269.0,548.4 1271.7,548.4 1271.7,549.0 1274.3,549.0 1274.3,549.0 1277.0,549.0 1277.0,549.6 1279.2,549.6 1279.2,553.0 1281.5,553.0 1281.5,556.4 1283.8,556.4 1283.8,561.6 1286.0,561.6 1286.0,565.0 1288.2,565.0 1288.2,568.5 1290.5,568.5 1290.5,572.0 1292.8,572.0 1292.8,575.5 1295.0,575.5 1295.0,579.6 1299.0,579.6 1299.0,579.0 1301.2,579.0 1301.2,576.1 1303.5,576.1 1303.5,572.6 1305.8,572.6 1305.8,568.5 1308.0,568.5 1308.0,565.6 1310.3,565.6 1310.3,561.2 1312.7,561.2 1312.7,556.8 1315.0,556.8 1315.0,554.2 1317.4,554.2 1317.4,550.4 1319.7,550.4 1319.7,545.4 1322.0,545.4 1322.0,546.6 1324.3,546.6 1324.3,545.4 1326.6,545.4 1326.6,546.6 1328.8,546.6 1328.8,545.4 1331.1,545.4 1331.1,545.4 1333.4,545.4 1333.4,546.0 1335.7,546.0 1335.7,545.4 1338.0,545.4 1338.0,546.0 1340.5,546.0 1340.5,550.2 1343.0,550.2 1343.0,554.5 1345.5,554.5 1345.5,558.1 1348.0,558.1 1348.0,562.4 1350.5,562.4 1350.5,566.8 1352.9,566.8 1352.9,570.5 1355.3,570.5 1355.3,573.6 1357.8,573.6 1357.8,578.6 1361.0,578.6 1361.0,578.6 1363.2,578.6 1363.2,574.2 1365.5,574.2 1365.5,570.5 1367.8,570.5 1367.8,567.4 1370.0,567.4 1370.0,563.0 1372.3,563.0 1372.3,559.2 1374.7,559.2 1374.7,555.5 1377.1,555.5 1377.1,551.8 1379.4,551.8 1379.4,548.0 1383.5,548.0 1383.5,547.4 1385.8,547.4 1385.8,551.0 1388.1,551.0 1388.1,554.0 1390.4,554.0 1390.4,556.4 1392.7,556.4 1392.7,560.0 1395.0,560.0 1395.0,563.0 1397.5,563.0 1397.5,566.8 1400.0,566.8 1400.0,569.4 1402.5,569.4 1402.5,572.6 1405.0,572.6 1405.0,575.2 1407.5,575.2 1407.5,579.0 1409.8,579.0 1409.8,579.0 1412.1,579.0 1412.1,579.6 1414.4,579.6 1414.4,579.0 1416.7,579.0 1416.7,579.6 1419.0,579.6 1419.0,578.4 1421.5,578.4 1421.5,575.0 1424.0,575.0 1424.0,571.6 1426.5,571.6 1426.5,567.0 1429.0,567.0 1429.0,563.0 1431.5,563.0 1431.5,558.8 1434.0,558.8 1434.0,554.5 1436.5,554.5 1436.5,550.2 1439.0,550.2 1439.0,546.0 1441.5,546.0 1441.5,546.6 1444.0,546.6 1444.0,546.0 1446.5,546.0 1446.5,546.0 1449.0,546.0 1449.0,545.4 1451.2,545.4 1451.2,549.4 1453.5,549.4 1453.5,554.0 1455.8,554.0 1455.8,558.6 1458.0,558.6 1458.0,562.0 1460.2,562.0 1460.2,565.4 1462.5,565.4 1462.5,566.9 1464.8,566.9 1464.8,570.2 1467.0,570.2 1467.0,572.4 1469.5,572.4 1469.5,574.0 1472.0,574.0 1472.0,573.8 1474.5,573.8 1474.5,574.2 1477.0,574.2 1477.0,574.6 1479.5,574.6 1479.5,572.2 1482.0,572.2 1482.0,569.8 1484.5,569.8 1484.5,567.4 1487.0,567.4 1487.0,565.0 1489.3,565.0 1489.3,561.8 1491.6,561.8 1491.6,559.8 1494.0,559.8 1494.0,557.2 1496.3,557.2 1496.3,554.0 1498.6,554.0 1498.6,552.6 1501.2,552.6 1501.2,555.5 1503.8,555.5 1503.8,559.6 1506.4,559.6 1506.4,562.5 1509.0,562.5 1509.0,566.6 1511.2,566.6 1511.2,568.0 1513.4,568.0 1513.4,570.6 1515.6,570.6 1515.6,574.4 1517.8,574.4 1517.8,577.0 1520.0,577.0 1520.0,579.6 1522.5,579.6 1522.5,579.0 1525.0,579.0 1525.0,579.6 1527.5,579.6 1527.5,578.4 1530.0,578.4 1530.0,579.0 1532.2,579.0 1532.2,575.8 1534.4,575.8 1534.4,572.6 1536.6,572.6 1536.6,568.8 1538.8,568.8 1538.8,566.2 1541.0,566.2 1541.0,563.0 1543.7,563.0 1543.7,559.0 1546.3,559.0 1546.3,555.6 1548.9,555.6 1548.9,550.4 1551.6,550.4 1551.6,546.4 1554.4,546.4 1554.4,547.0 1557.2,547.0 1557.2,546.4 1560.0,546.4 1560.0,547.0 1562.4,547.0 1562.4,550.2 1564.8,550.2 1564.8,551.6 1567.2,551.6 1567.2,555.4 1569.6,555.4 1569.6,556.8 1572.0,556.8 1572.0,559.4 1574.7,559.4 1574.7,562.7 1577.3,562.7 1577.3,566.7 1580.0,566.7 1580.0,570.0 1582.7,570.0 1582.7,571.9 1585.3,571.9 1585.3,574.3 1588.0,574.3 1588.0,575.6 1590.4,575.6 1590.4,573.1 1592.8,573.1 1592.8,571.8 1595.2,571.8 1595.2,569.2 1597.6,569.2 1597.6,567.9 1600.0,567.9 1600.0,566.0 1602.2,566.0 1602.2,565.3 1604.4,565.3 1604.4,564.1 1606.6,564.1 1606.6,562.8 1608.8,562.8 1608.8,561.0 1611.0,561.0 1611.0,559.1 1613.2,559.1 1613.2,561.8 1615.5,561.8 1615.5,563.2 1617.8,563.2 1617.8,565.9 1620.0,565.9 1620.0,568.6 1622.2,568.6 1622.2,570.2 1624.4,570.2 1624.4,572.4 1626.6,572.4 1626.6,574.0 1628.8,574.0 1628.8,576.8 1631.0,576.8 1631.0,579.0 1633.5,579.0 1633.5,578.4 1636.0,578.4 1636.0,579.0 1638.2,579.0 1638.2,575.8 1640.4,575.8 1640.4,572.6 1642.6,572.6 1642.6,568.8 1644.8,568.8 1644.8,566.2 1647.0,566.2 1647.0,563.0 1649.4,563.0 1649.4,560.2 1651.8,560.2 1651.8,556.2 1654.2,556.2 1654.2,552.8 1656.6,552.8 1656.6,549.4 1659.0,549.4 1659.0,545.4 1661.5,545.4 1661.5,546.6 1664.0,546.6 1664.0,546.6 1666.5,546.6 1666.5,546.0 1669.0,546.0 1669.0,546.0 1671.5,546.0 1671.5,546.0 1674.0,546.0 1674.0,546.0 1676.5,546.0 1676.5,550.0 1679.0,550.0 1679.0,554.0 1681.5,554.0 1681.5,558.6 1684.0,558.6 1684.0,562.0 1686.5,562.0 1686.5,565.1 1689.0,565.1 1689.0,568.3 1691.5,568.3 1691.5,571.5 1694.0,571.5 1694.0,574.6 1696.5,574.6 1696.5,569.2 1699.0,569.2 1699.0,564.4 1702.3,564.4 1702.3,559.1 1705.6,559.1 1705.6,552.6 1707.9,552.6 1707.9,551.4 1710.3,551.4 1710.3,552.6 1712.6,552.6 1712.6,551.4 1715.0,551.4 1715.0,552.0 1717.3,552.0 1717.3,551.4 1719.7,551.4 1719.7,552.0 1722.0,552.0 1722.0,551.4 1724.2,551.4 1724.2,554.8 1726.4,554.8 1726.4,557.0 1728.6,557.0 1728.6,559.8 1730.8,559.8 1730.8,563.2 1733.0,563.2 1733.0,565.4 1735.7,565.4 1735.7,569.2 1738.3,569.2 1738.3,572.5 1741.0,572.5 1741.0,575.8 1743.7,575.8 1743.7,578.4 1746.0,578.4 1746.0,578.4 1748.2,578.4 1748.2,578.4 1750.5,578.4 1750.5,579.0 1752.7,579.0 1752.7,579.0 1755.0,579.0 1755.0,579.6 1757.2,579.6 1757.2,576.0 1759.4,576.0 1759.4,573.0 1761.6,573.0 1761.6,570.6 1763.8,570.6 1763.8,567.0 1766.0,567.0 1766.0,564.6 1768.5,564.6 1768.5,560.2 1771.0,560.2 1771.0,558.2 1773.5,558.2 1773.5,554.4 1776.0,554.4 1776.0,551.8 1778.5,551.8 1778.5,548.0 1780.8,548.0 1780.8,551.4 1783.1,551.4 1783.1,553.0 1785.4,553.0 1785.4,555.8 1787.7,555.8 1787.7,559.2 1790.0,559.2 1790.0,562.0 1792.6,562.0 1792.6,565.0 1795.2,565.0 1795.2,566.8 1797.8,566.8 1797.8,569.8 1800.4,569.8 1800.4,571.0 1803.0,571.0 1803.0,574.0 1805.5,574.0 1805.5,572.7 1808.0,572.7 1808.0,572.1 1810.5,572.1 1810.5,572.0 1813.0,572.0 1813.0,570.7 1815.5,570.7 1815.5,570.7 1818.0,570.7 1818.0,569.4 1820.5,569.4 1820.5,569.1 1823.0,569.1 1823.0,567.6 1825.5,567.6 1825.5,567.4 1828.0,567.4 1828.0,565.9 1830.5,565.9 1830.5,565.6 1833.0,565.6 1833.0,564.7 1835.7,564.7 1835.7,565.8 1838.3,565.8 1838.3,566.9 1841.0,566.9 1841.0,568.6 1843.3,568.6 1843.3,570.2 1845.7,570.2 1845.7,572.4 1848.0,572.4 1848.0,575.2" stroke="#7a0000" stroke-width="1.5" fill="none"/>
<rect x="40" y="586" width="1809" height="232.9" fill="#ffd2d0"/>
<rect x="40" y="818.9" width="1809" height="64.1" fill="#ffebd0"/>
<rect x="40" y="883" width="1809" height="63.5" fill="#e1f0d7"/>
<path d="M40 614.4 H1849" stroke="#eec5c3" stroke-width="2"/>
<path d="M40 661.8 H1849" stroke="#eec5c3" stroke-width="2"/>
<path d="M40 709.3 H1849" stroke="#eec5c3" stroke-width="2"/>
<path d="M40 756.7 H1849" stroke="#eec5c3" stroke-width="2"/>
<path d="M40 804.2 H1849" stroke="#eec5c3" stroke-width="2"/>
<path d="M40 851.6 H1849" stroke="#eedbc3" stroke-width="2"/>
<path d="M40 899.1 H1849" stroke="#d2e1c9" stroke-width="2"/>
<path d="M39.5 586 V947 M39 946.5 H1849" stroke="#555" stroke-width="1.2" fill="none"/>
<path d="M168.5 946 v5" stroke="#222" stroke-width="1.2"/>
<path d="M349.5 946 v5" stroke="#222" stroke-width="1.2"/>
<path d="M530.5 946 v5" stroke="#222" stroke-width="1.2"/>
<path d="M711.5 946 v5" stroke="#222" stroke-width="1.2"/>
<path d="M892.5 946 v5" stroke="#222" stroke-width="1.2"/>
<path d="M1073.5 946 v5" stroke="#222" stroke-width="1.2"/>
<path d="M1254.5 946 v5" stroke="#222" stroke-width="1.2"/>
<path d="M1435.5 946 v5" stroke="#222" stroke-width="1.2"/>
<path d="M1616.5 946 v5" stroke="#222" stroke-width="1.2"/>
<path d="M1797.5 946 v5" stroke="#222" stroke-width="1.2"/>
<path d="M40.0 935.3 H49.0 H63.0 H67.0 V936.2 H71.0 V934.6 H91.0 V935.3 H111.0 H115.0 H129.0 V936.0 H133.0 V935.3 H137.0 V936.2 H151.0 V935.3 H171.0 H177.0 H181.0 H201.0 V936.0 H205.0 V935.3 H209.0 V936.2 H215.0 V935.3 H229.0 H249.0 H269.0 H289.0 H293.0 H313.0 H322.0 H342.0 H362.0 H382.0 H396.0 V936.2 H410.0 V934.6 H424.0 V935.3 H438.0 V934.6 H447.0 V935.3 H453.0 H457.0 H466.0 V936.2 H480.0 V934.6 H494.0 V935.3 H514.0 H518.0 V936.2 H532.0 V935.3 H541.0 H555.0 V936.0 H559.0 V935.3 H579.0 H588.0 V934.6 H597.0 V935.3 H611.0 H625.0 H629.0 H643.0 H647.0 H667.0 V934.3 H676.0 V936.0 H685.0 V935.3 H699.0 V934.6 H705.0 V935.3 H709.0 V934.3 H713.0 V935.3 H722.0 H728.0 V936.0 H742.0 V934.3 H746.0 V935.3 H760.0 V936.0 H780.0 V935.3 H786.0 V936.0 H806.0 V935.3 H820.0 V934.6 H834.0 V935.3 H840.0 H846.0 H852.0 H856.0 V934.3 H876.0 V935.3 H885.0 H889.0 H898.2 M925.4 935.3 H934.4 H954.4 V934.6 H960.4 V936.2 H980.4 V935.3 H994.4 V936.2 H1008.4 V936.0 H1022.4 H1026.4 V934.3 H1040.4 V935.3 H1046.4 H1052.4 V934.3 H1058.4 V935.3 H1067.4 H1071.4 H1075.4 H1081.4 V936.2 H1085.4 V934.6 H1105.4 V935.3 H1109.4 H1129.4 V936.0 H1135.4 V935.3 H1144.4 H1153.4 V934.3 H1157.4 V935.3 H1171.4 V934.3 H1185.4 H1194.4 V935.3 H1200.4 H1209.4 H1223.4 H1243.4 H1249.4 V936.2 H1258.4 V935.3 H1278.4 H1298.4 H1302.4 H1322.4 V934.6 H1328.4 H1334.4 V936.2 H1354.4 H1363.4 V935.3 H1383.4 H1389.4 V936.0 H1395.4 V935.3 H1415.4 V934.3 H1424.4 V935.3 H1428.4 H1442.4 H1448.4 H1457.4 V934.3 H1466.4 V934.6 H1470.4 V935.3 H1474.4 H1488.4 H1497.4 H1511.4 H1531.4 H1545.4 V934.6 H1549.4 V935.3 H1563.4 H1577.4 H1591.4 V934.6 H1595.4 V936.0 H1609.4 H1613.4 V935.3 H1619.4 H1623.4 H1643.4 V934.3 H1649.4 V935.3 H1669.4 V934.3 H1678.4 V935.3 H1698.4 V936.2 H1704.4 V935.3 H1708.4 H1728.4 H1742.4 H1748.4 H1757.4 H1766.4 V936.2 H1772.4 V935.3 H1781.4 H1801.4 V936.0 H1807.4 V935.3 H1816.4 V934.3 H1836.4 V936.2 H1849.0" stroke="#111" stroke-width="3.1" fill="none"/>
<polyline points="897.6,935.3 897.6,852.0 899.3,852.0 899.3,793.2 899.6,793.2 899.6,911.8 901.4,911.8 901.4,920.6 903.4,920.6 903.4,933.8 905.6,933.8 905.6,875.4 906.6,875.4 906.6,926.4 908.4,926.4 908.4,827.1 908.8,827.1 908.8,926.4 912.3,926.4 912.3,914.4 912.8,914.4 912.8,926.4 914.2,926.4 914.2,837.1 914.7,837.1 914.7,893.4 916.5,893.4 916.5,910.9 918.3,910.9 918.3,935.3 920.6,935.3 920.6,832.2 921.2,832.2 921.2,912.7 923.4,912.7 923.4,595.3 924.4,595.3 924.4,912.7 926.0,912.7 926.0,935.3" stroke="#111" stroke-width="1.4" fill="none" stroke-linejoin="miter"/>
<rect x="1018" y="814.3" width="3.7" height="2.6" fill="#111"/><rect x="1774.2" y="845.7" width="4" height="9" fill="#111"/>
<g fill="#111"><rect x="905.2" y="875.4" width="2" height="58"/><rect x="915" y="893.4" width="2.2" height="17.5"/><rect x="920.3" y="832.2" width="1.5" height="103"/><rect x="922.9" y="595.3" width="2.1" height="317.4"/><rect x="903" y="932.5" width="3" height="2.8"/><rect x="918" y="933.9" width="3" height="2.6"/></g>
<g fill="#111"><rect x="43.0" y="932.6" width="2.0" height="3.7"/><rect x="67.4" y="932.8" width="1.2" height="3.5"/><rect x="81.0" y="932.6" width="2.0" height="3.7"/><rect x="122.5" y="932.4" width="3.0" height="3.9"/><rect x="135.0" y="932.6" width="2.0" height="3.7"/><rect x="147.2" y="932.6" width="1.5" height="3.7"/><rect x="161.0" y="932.5" width="2.0" height="3.8"/><rect x="167.0" y="932.8" width="2.0" height="3.5"/><rect x="243.3" y="932.8" width="1.4" height="3.5"/><rect x="351.0" y="932.6" width="2.0" height="3.7"/><rect x="367.0" y="932.6" width="2.0" height="3.7"/><rect x="451.4" y="932.8" width="1.2" height="3.5"/><rect x="511.4" y="926.5" width="1.2" height="9.8"/><rect x="519.4" y="931.0" width="1.2" height="5.3"/><rect x="523.0" y="932.2" width="2.0" height="4.1"/><rect x="530.4" y="931.0" width="1.2" height="5.3"/><rect x="538.5" y="932.0" width="3.0" height="4.3"/><rect x="546.0" y="932.5" width="2.0" height="3.8"/><rect x="559.0" y="932.4" width="2.0" height="3.9"/><rect x="599.0" y="932.0" width="2.0" height="4.3"/><rect x="657.8" y="926.8" width="1.2" height="9.5"/><rect x="678.0" y="932.4" width="2.0" height="3.9"/><rect x="691.9" y="928.4" width="1.2" height="7.9"/><rect x="722.0" y="925.4" width="1.2" height="10.9"/><rect x="785.0" y="931.6" width="2.0" height="4.7"/><rect x="809.7" y="927.0" width="2.6" height="9.3"/><rect x="816.4" y="930.0" width="1.2" height="6.3"/><rect x="864.8" y="932.0" width="2.5" height="4.3"/><rect x="929.5" y="882.0" width="3.0" height="54.3"/><rect x="935.0" y="825.0" width="2.0" height="111.3"/><rect x="937.7" y="917.0" width="2.0" height="19.3"/><rect x="967.0" y="828.0" width="2.0" height="108.3"/><rect x="971.8" y="898.0" width="1.2" height="38.3"/><rect x="977.9" y="868.0" width="1.2" height="68.3"/><rect x="979.8" y="919.0" width="2.0" height="17.3"/><rect x="983.9" y="830.0" width="1.2" height="106.3"/><rect x="987.9" y="907.0" width="1.2" height="29.3"/><rect x="998.2" y="929.0" width="1.5" height="7.3"/><rect x="1009.8" y="929.5" width="2.5" height="6.8"/><rect x="1019.5" y="815.0" width="2.2" height="121.3"/><rect x="1024.1" y="873.0" width="3.0" height="63.3"/><rect x="1029.0" y="893.0" width="2.0" height="43.3"/><rect x="1030.0" y="823.0" width="2.0" height="113.3"/><rect x="1035.0" y="915.0" width="2.0" height="21.3"/><rect x="1041.7" y="844.5" width="1.2" height="91.8"/><rect x="1044.9" y="917.0" width="3.0" height="19.3"/><rect x="1058.8" y="894.0" width="1.2" height="42.3"/><rect x="1077.9" y="854.0" width="1.2" height="82.3"/><rect x="1083.5" y="843.0" width="3.0" height="93.3"/><rect x="1091.9" y="817.0" width="1.2" height="119.3"/><rect x="1094.8" y="880.6" width="2.4" height="55.7"/><rect x="1096.7" y="812.0" width="2.6" height="124.3"/><rect x="1099.8" y="850.5" width="2.4" height="85.8"/><rect x="1113.0" y="913.0" width="1.2" height="23.3"/><rect x="1137.3" y="812.0" width="2.0" height="124.3"/><rect x="1142.7" y="847.0" width="1.2" height="89.3"/><rect x="1145.0" y="910.0" width="2.0" height="26.3"/><rect x="1149.1" y="852.0" width="1.2" height="84.3"/><rect x="1153.1" y="918.0" width="1.2" height="18.3"/><rect x="1188.9" y="865.0" width="1.2" height="71.3"/><rect x="1195.2" y="838.0" width="2.0" height="98.3"/><rect x="1200.0" y="912.7" width="2.0" height="23.6"/><rect x="1207.0" y="828.0" width="1.2" height="108.3"/><rect x="1210.0" y="915.0" width="2.0" height="21.3"/><rect x="1227.0" y="928.0" width="2.0" height="8.3"/><rect x="1247.1" y="878.0" width="1.2" height="58.3"/><rect x="1253.1" y="833.8" width="1.2" height="102.5"/><rect x="1256.5" y="922.0" width="3.0" height="14.3"/><rect x="1259.1" y="832.0" width="1.2" height="104.3"/><rect x="1263.0" y="894.0" width="2.0" height="42.3"/><rect x="1269.2" y="867.0" width="1.2" height="69.3"/><rect x="1299.0" y="863.0" width="3.0" height="73.3"/><rect x="1304.8" y="867.0" width="2.0" height="69.3"/><rect x="1311.9" y="862.0" width="1.2" height="74.3"/><rect x="1317.8" y="833.0" width="1.2" height="103.3"/><rect x="1323.9" y="812.6" width="3.0" height="123.7"/><rect x="1331.7" y="894.0" width="1.2" height="42.3"/><rect x="1357.5" y="930.0" width="3.0" height="6.3"/><rect x="1359.8" y="898.0" width="2.4" height="38.3"/><rect x="1361.9" y="804.0" width="1.2" height="132.3"/><rect x="1366.8" y="905.0" width="1.2" height="31.3"/><rect x="1371.9" y="872.0" width="2.2" height="64.3"/><rect x="1377.8" y="843.0" width="1.2" height="93.3"/><rect x="1382.7" y="909.0" width="1.2" height="27.3"/><rect x="1418.9" y="870.0" width="1.2" height="66.3"/><rect x="1422.5" y="929.0" width="3.0" height="7.3"/><rect x="1425.0" y="813.0" width="2.0" height="123.3"/><rect x="1428.9" y="900.0" width="3.0" height="36.3"/><rect x="1434.5" y="874.0" width="2.4" height="62.3"/><rect x="1437.0" y="812.6" width="2.0" height="123.7"/><rect x="1441.7" y="890.0" width="1.2" height="46.3"/><rect x="1450.0" y="910.0" width="2.0" height="26.3"/><rect x="1454.5" y="909.0" width="2.0" height="27.3"/><rect x="1477.8" y="835.0" width="1.2" height="101.3"/><rect x="1482.8" y="902.0" width="1.2" height="34.3"/><rect x="1487.6" y="877.5" width="2.2" height="58.8"/><rect x="1492.6" y="902.7" width="2.0" height="33.6"/><rect x="1494.0" y="853.0" width="1.2" height="83.3"/><rect x="1529.7" y="847.0" width="2.0" height="89.3"/><rect x="1536.8" y="854.0" width="1.2" height="82.3"/><rect x="1542.7" y="825.0" width="1.2" height="111.3"/><rect x="1547.7" y="903.0" width="1.2" height="33.3"/><rect x="1548.5" y="920.0" width="1.5" height="16.3"/><rect x="1553.0" y="839.5" width="2.0" height="96.8"/><rect x="1563.6" y="884.0" width="1.2" height="52.3"/><rect x="1578.4" y="920.0" width="1.2" height="16.3"/><rect x="1587.8" y="923.0" width="1.2" height="13.3"/><rect x="1593.7" y="898.0" width="1.2" height="38.3"/><rect x="1599.5" y="883.0" width="2.2" height="53.3"/><rect x="1601.3" y="813.6" width="2.0" height="122.7"/><rect x="1607.9" y="924.0" width="1.4" height="12.3"/><rect x="1636.4" y="909.0" width="1.2" height="27.3"/><rect x="1642.8" y="846.0" width="1.2" height="90.3"/><rect x="1646.4" y="909.0" width="1.2" height="27.3"/><rect x="1649.5" y="815.0" width="3.0" height="121.3"/><rect x="1656.5" y="888.0" width="2.2" height="48.3"/><rect x="1658.0" y="824.0" width="1.2" height="112.3"/><rect x="1662.0" y="890.5" width="2.4" height="45.8"/><rect x="1663.6" y="829.0" width="1.2" height="107.3"/><rect x="1667.6" y="915.0" width="1.2" height="21.3"/><rect x="1687.8" y="900.0" width="1.2" height="36.3"/><rect x="1696.8" y="817.0" width="1.2" height="119.3"/><rect x="1700.0" y="924.0" width="3.0" height="12.3"/><rect x="1701.9" y="883.0" width="2.2" height="53.3"/><rect x="1703.0" y="822.6" width="1.2" height="113.7"/><rect x="1707.7" y="915.0" width="1.2" height="21.3"/><rect x="1712.6" y="909.0" width="2.0" height="27.3"/><rect x="1718.9" y="872.0" width="1.2" height="64.3"/><rect x="1755.2" y="853.0" width="2.2" height="83.3"/><rect x="1756.6" y="822.6" width="2.0" height="113.7"/><rect x="1762.0" y="869.0" width="1.2" height="67.3"/><rect x="1768.0" y="867.0" width="1.2" height="69.3"/><rect x="1774.1" y="850.0" width="1.3" height="86.3"/><rect x="1776.9" y="817.0" width="1.3" height="119.3"/><rect x="1794.5" y="930.0" width="3.0" height="6.3"/><rect x="1796.6" y="910.0" width="2.0" height="26.3"/><rect x="1797.8" y="883.0" width="1.2" height="53.3"/><rect x="1811.7" y="908.0" width="1.2" height="28.3"/><rect x="1817.7" y="907.0" width="1.2" height="29.3"/><rect x="1823.6" y="882.0" width="1.2" height="54.3"/><rect x="1828.7" y="890.0" width="3.0" height="46.3"/></g>
<path d="M886.2 586 V945" stroke="#f00000" stroke-width="2"/>
<path d="M897.3 586 V945 M907.6 586 V945 M1607.6 586 V945" stroke="#f00000" stroke-width="1.25"/>
</svg>
<div style="left:20.50px;top:554.08px;font-size:13.61px;line-height:13.61px;color:#8b0000;transform:scaleX(0.9993);transform-origin:100% 0;">35</div>
<div style="left:12.94px;top:582.68px;font-size:13.61px;line-height:13.61px;color:#222;transform:scaleX(0.9993);transform-origin:100% 0;">570</div>
<div style="left:28.05px;top:930.78px;font-size:13.61px;line-height:13.61px;color:#222;transform:scaleX(0.9993);transform-origin:100% 0;">0</div>
<div style="left:1850.00px;top:584.48px;font-size:13.61px;line-height:13.61px;color:#c82020;transform:scaleX(0.9993);transform-origin:0 0;">30</div>
<div style="left:918.70px;top:549.43px;font-size:11.66px;line-height:11.66px;color:#8b2020;transform:scaleX(0.9987);transform-origin:0 0;">Jitter (ms)</div>
<div style="left:40.30px;top:614.96px;font-size:13.61px;line-height:13.61px;color:#e9bab8;transform:scaleX(0.9976);transform-origin:0 0;">525 ms</div>
<div style="left:40.30px;top:662.42px;font-size:13.61px;line-height:13.61px;color:#e9bab8;transform:scaleX(0.9976);transform-origin:0 0;">450 ms</div>
<div style="left:40.30px;top:709.87px;font-size:13.61px;line-height:13.61px;color:#e9bab8;transform:scaleX(0.9976);transform-origin:0 0;">375 ms</div>
<div style="left:40.30px;top:757.32px;font-size:13.61px;line-height:13.61px;color:#e9bab8;transform:scaleX(0.9976);transform-origin:0 0;">300 ms</div>
<div style="left:40.30px;top:804.77px;font-size:13.61px;line-height:13.61px;color:#e9bab8;transform:scaleX(0.9976);transform-origin:0 0;">225 ms</div>
<div style="left:40.30px;top:852.23px;font-size:13.61px;line-height:13.61px;color:#e6d2b8;transform:scaleX(0.9976);transform-origin:0 0;">150 ms</div>
<div style="left:40.30px;top:899.68px;font-size:13.61px;line-height:13.61px;color:#c8d8c0;transform:scaleX(0.9973);transform-origin:0 0;">75 ms</div>
<div style="left:151.31px;top:948.98px;font-size:13.61px;line-height:13.61px;color:#2e5b2e;transform:scaleX(0.9775);transform-origin:50% 0;">22:43</div>
<div style="left:332.31px;top:948.98px;font-size:13.61px;line-height:13.61px;color:#2e5b2e;transform:scaleX(0.9775);transform-origin:50% 0;">22:44</div>
<div style="left:513.31px;top:948.98px;font-size:13.61px;line-height:13.61px;color:#2e5b2e;transform:scaleX(0.9775);transform-origin:50% 0;">22:45</div>
<div style="left:694.31px;top:948.98px;font-size:13.61px;line-height:13.61px;color:#2e5b2e;transform:scaleX(0.9775);transform-origin:50% 0;">22:46</div>
<div style="left:875.31px;top:948.98px;font-size:13.61px;line-height:13.61px;color:#2e5b2e;transform:scaleX(0.9775);transform-origin:50% 0;">22:47</div>
<div style="left:1056.31px;top:948.98px;font-size:13.61px;line-height:13.61px;color:#2e5b2e;transform:scaleX(0.9775);transform-origin:50% 0;">22:48</div>
<div style="left:1237.31px;top:948.98px;font-size:13.61px;line-height:13.61px;color:#2e5b2e;transform:scaleX(0.9775);transform-origin:50% 0;">22:49</div>
<div style="left:1418.31px;top:948.98px;font-size:13.61px;line-height:13.61px;color:#2e5b2e;transform:scaleX(0.9775);transform-origin:50% 0;">22:50</div>
<div style="left:1599.31px;top:948.98px;font-size:13.61px;line-height:13.61px;color:#2e5b2e;transform:scaleX(0.9775);transform-origin:50% 0;">22:51</div>
<div style="left:1780.31px;top:948.98px;font-size:13.61px;line-height:13.61px;color:#2e5b2e;transform:scaleX(0.9775);transform-origin:50% 0;">22:52</div>
<div style="left:35.3px;top:766px;width:0;height:0;transform:rotate(-90deg);transform-origin:0 0;">
<div style="left:-39.28px;top:-11.52px;font-size:13.61px;line-height:13.61px;color:#333;transform:scaleX(0.9824);transform-origin:50% 0;">Latency (ms)</div>
</div>
<div style="left:1852px;top:776px;width:0;height:0;transform:rotate(90deg);transform-origin:0 0;">
<div style="left:-44.97px;top:-11.52px;font-size:13.61px;line-height:13.61px;color:#c83030;transform:scaleX(0.9339);transform-origin:50% 0;">Packet Loss %</div>
</div>
</body></html>
